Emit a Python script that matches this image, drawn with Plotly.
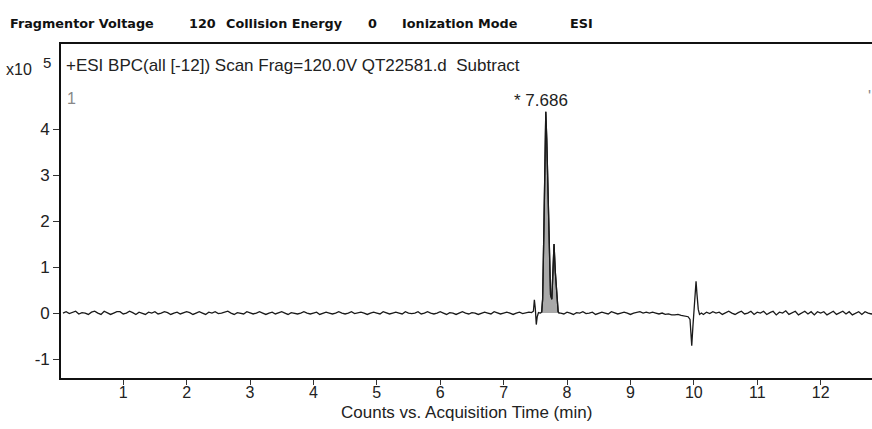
import numpy as np
import plotly.graph_objects as go

# ---------------- data (counts in units of 1,000) ----------------
# baseline segment A: acquisition grid 0.05 .. 7.40 min, step 0.05
seg_a_start, seg_a_step = 0.05, 0.05
seg_a_kcounts = [
    0, 3, -1, 2, 4, -2, 1, 0, -3, 2,
    4, 0, -3, 4, 1, -3, 0, 3, 3, -2,
    0, 4, 1, -3, 2, 0, -3, 2, 0, 3,
    -2, 0, 3, 1, -3, 0, 2, -2, 0, 3,
    1, -3, 0, 3, 0, -3, 2, 0, 3, -1,
    0, 2, 4, 0, -3, 1, 0, -2, 3, 0,
    -2, 0, 3, 0, -3, 0, 2, -2, 0, 3,
    0, -3, 1, 0, -2, 0, 3, 0, -2, 0,
    2, -3, 0, 2, 0, -2, 0, 3, 0, -2,
    0, 3, -1, 0, 2, 0, -3, 0, 2, 0,
    -2, 3, 0, -2, 0, 2, 0, -2, 3, 0,
    -1, 0, 3, -2, 0, 3, 0, -2, 0, 3,
    0, -3, 1, 0, -3, 0, 3, 0, -2, 1,
    0, -3, 0, 2, 0, -2, 3, 0, -2, 0,
    2, 0, -3, 0, 2, -1, 0, 2,
]
# peak cluster around 7.5 - 7.9 min
seg_b_time = [7.44, 7.47, 7.485, 7.50, 7.515, 7.53, 7.55, 7.58, 7.60, 7.615,
              7.635, 7.655, 7.665, 7.68, 7.70, 7.72, 7.74, 7.76, 7.775, 7.795,
              7.815, 7.84, 7.86, 7.875]
seg_b_kcounts = [1, 4, 29, 10, -25, -8, 1, 0, 2, 30,
                 180, 400, 438, 380, 250, 110, 40, 30, 100, 150,
                 90, 25, 3, 0]
# baseline segment C: grid 7.90 .. 9.85 min
seg_c_start, seg_c_step = 7.90, 0.05
seg_c_kcounts = [
    0, -2, 2, 0, -3, 1, 0, 3, -1, 0,
    2, -3, 0, 2, 0, -2, 3, 0, -2, 0,
    2, 0, -3, 0, 2, 3, 0, 2, 0, 2,
    0, -2, 0, -3, -2, -4, -4, -3, -5, -6,
]
# disturbance near 10 min
seg_d_time = [9.88, 9.91, 9.94, 9.955, 9.967, 9.985, 10.00, 10.02, 10.035, 10.05,
              10.07, 10.09, 10.12]
seg_d_kcounts = [-6, -8, -14, -45, -71, -30, 5, 50, 69, 40,
                 8, -3, 0]
# baseline segment E: grid 10.15 .. 12.85 min
seg_e_start, seg_e_step = 10.15, 0.05
seg_e_kcounts = [
    -3, 2, -1, 3, 0, 2, -3, 1, 4, 0,
    -3, 1, 4, -2, 0, 4, -3, 2, 0, 4,
    -3, 1, 4, -4, 2, 0, 5, -3, 1, 4,
    -4, 0, 4, -2, 3, -4, 3, 0, 3, -4,
    1, 4, -3, 0, 4, -2, 3, -4, 0, 3,
    -3, 3, 0, -2, 1,
]

x_tick_vals = [1, 2, 3, 4, 5, 6, 7, 8, 9, 10, 11, 12]
y_tick_vals = [-1, 0, 1, 2, 3, 4]
y_tick_text = ["-1", "0", "1", "2", "3", "4"]
peak_label = "* 7.686"
peak_fill_range = (7.60, 7.875)

header_items = ["Fragmentor Voltage", "120", "Collision Energy", "0", "Ionization Mode", "ESI"]
trace_title = "+ESI BPC(all [-12]) Scan Frag=120.0V QT22581.d  Subtract"
x_title = "Counts vs. Acquisition Time (min)"

# ---------------- assemble ----------------
def grid(start, step, n):
    return [round(start + i * step, 4) for i in range(n)]

t = (grid(seg_a_start, seg_a_step, len(seg_a_kcounts)) + seg_b_time +
     grid(seg_c_start, seg_c_step, len(seg_c_kcounts)) + seg_d_time +
     grid(seg_e_start, seg_e_step, len(seg_e_kcounts)))
k = seg_a_kcounts + seg_b_kcounts + seg_c_kcounts + seg_d_kcounts + seg_e_kcounts
t = np.array(t)
y = np.array(k) / 100.0  # in units of 10^5 counts

W, H = 872, 429
ML, MR, MT, MB = 61, 0, 44, 51
PW, PH = W - ML - MR, H - MT - MB

def px(xp):
    return (xp - ML) / PW

def py(yp):
    return (H - MB - yp) / PH

fig = go.Figure()
mask = (t >= peak_fill_range[0]) & (t <= peak_fill_range[1])
fig.add_trace(go.Scatter(x=t[mask], y=y[mask], mode="lines", fill="tozeroy",
                         fillcolor="#a9a9a9", line=dict(color="#1a1a1a", width=1.3),
                         hoverinfo="skip", showlegend=False))
fig.add_trace(go.Scatter(x=t, y=y, mode="lines",
                         line=dict(color="#1a1a1a", width=1.3), showlegend=False))

FONT = "Liberation Sans, Arial, sans-serif"
fig.update_layout(
    width=W, height=H,
    margin=dict(l=ML, r=MR, t=MT, b=MB, autoexpand=False),
    paper_bgcolor="white", plot_bgcolor="white",
    font=dict(family=FONT, size=16, color="#222"),
    xaxis=dict(range=[0.019, 12.81], tickvals=x_tick_vals, ticks="outside", ticklen=5,
               tickwidth=1, tickcolor="#333", showgrid=False, zeroline=False,
               showline=True, linecolor="#111", linewidth=1.6, mirror=True,
               ticklabelstandoff=-6,
               tickfont=dict(size=16, family=FONT, color="#222"), automargin=False),
    yaxis=dict(range=[-1.413, 5.854], tickvals=y_tick_vals, ticktext=y_tick_text,
               ticks="outside", ticklen=6,
               tickwidth=1, tickcolor="#333", showgrid=False, zeroline=False,
               showline=True, linecolor="#111", linewidth=1.6, mirror=False,
               tickfont=dict(size=17, family=FONT, color="#222"), automargin=False),
)

annots = []
hdr_x = [8, 187, 224, 366, 400, 568]
for txt, xp in zip(header_items, hdr_x):
    annots.append(dict(text="<b>" + txt + "</b>", x=px(xp), y=py(23), xref="paper", yref="paper",
                       xanchor="left", yanchor="middle", showarrow=False,
                       font=dict(family="DejaVu Sans, sans-serif", size=12.8, color="#111")))
annots.append(dict(text=trace_title, x=px(64), y=py(66), xref="paper", yref="paper",
                   xanchor="left", yanchor="middle", showarrow=False,
                   font=dict(family=FONT, size=17, color="#222")))
annots.append(dict(text="x10", x=px(4), y=py(69), xref="paper", yref="paper",
                   xanchor="left", yanchor="middle", showarrow=False,
                   font=dict(family=FONT, size=16, color="#222")))
annots.append(dict(text="5", x=px(41), y=py(63), xref="paper", yref="paper",
                   xanchor="left", yanchor="middle", showarrow=False,
                   font=dict(family=FONT, size=15, color="#222")))
annots.append(dict(text="1", x=px(65), y=py(98), xref="paper", yref="paper",
                   xanchor="left", yanchor="middle", showarrow=False,
                   font=dict(family=FONT, size=16, color="#888")))
annots.append(dict(text="'", x=px(866), y=py(96), xref="paper", yref="paper",
                   xanchor="left", yanchor="middle", showarrow=False,
                   font=dict(family=FONT, size=16, color="#888")))
annots.append(dict(text=peak_label, x=px(541), y=py(100), xref="paper", yref="paper",
                   xanchor="center", yanchor="middle", showarrow=False,
                   font=dict(family=FONT, size=17, color="#222")))
annots.append(dict(text=x_title, x=px(466), y=py(412), xref="paper", yref="paper",
                   xanchor="center", yanchor="middle", showarrow=False,
                   font=dict(family=FONT, size=17, color="#222")))
fig.update_layout(annotations=annots)

fig.write_html("out.html", config={"displayModeBar": False},
               post_script="document.body.style.margin='0';document.body.style.overflow='hidden';")
